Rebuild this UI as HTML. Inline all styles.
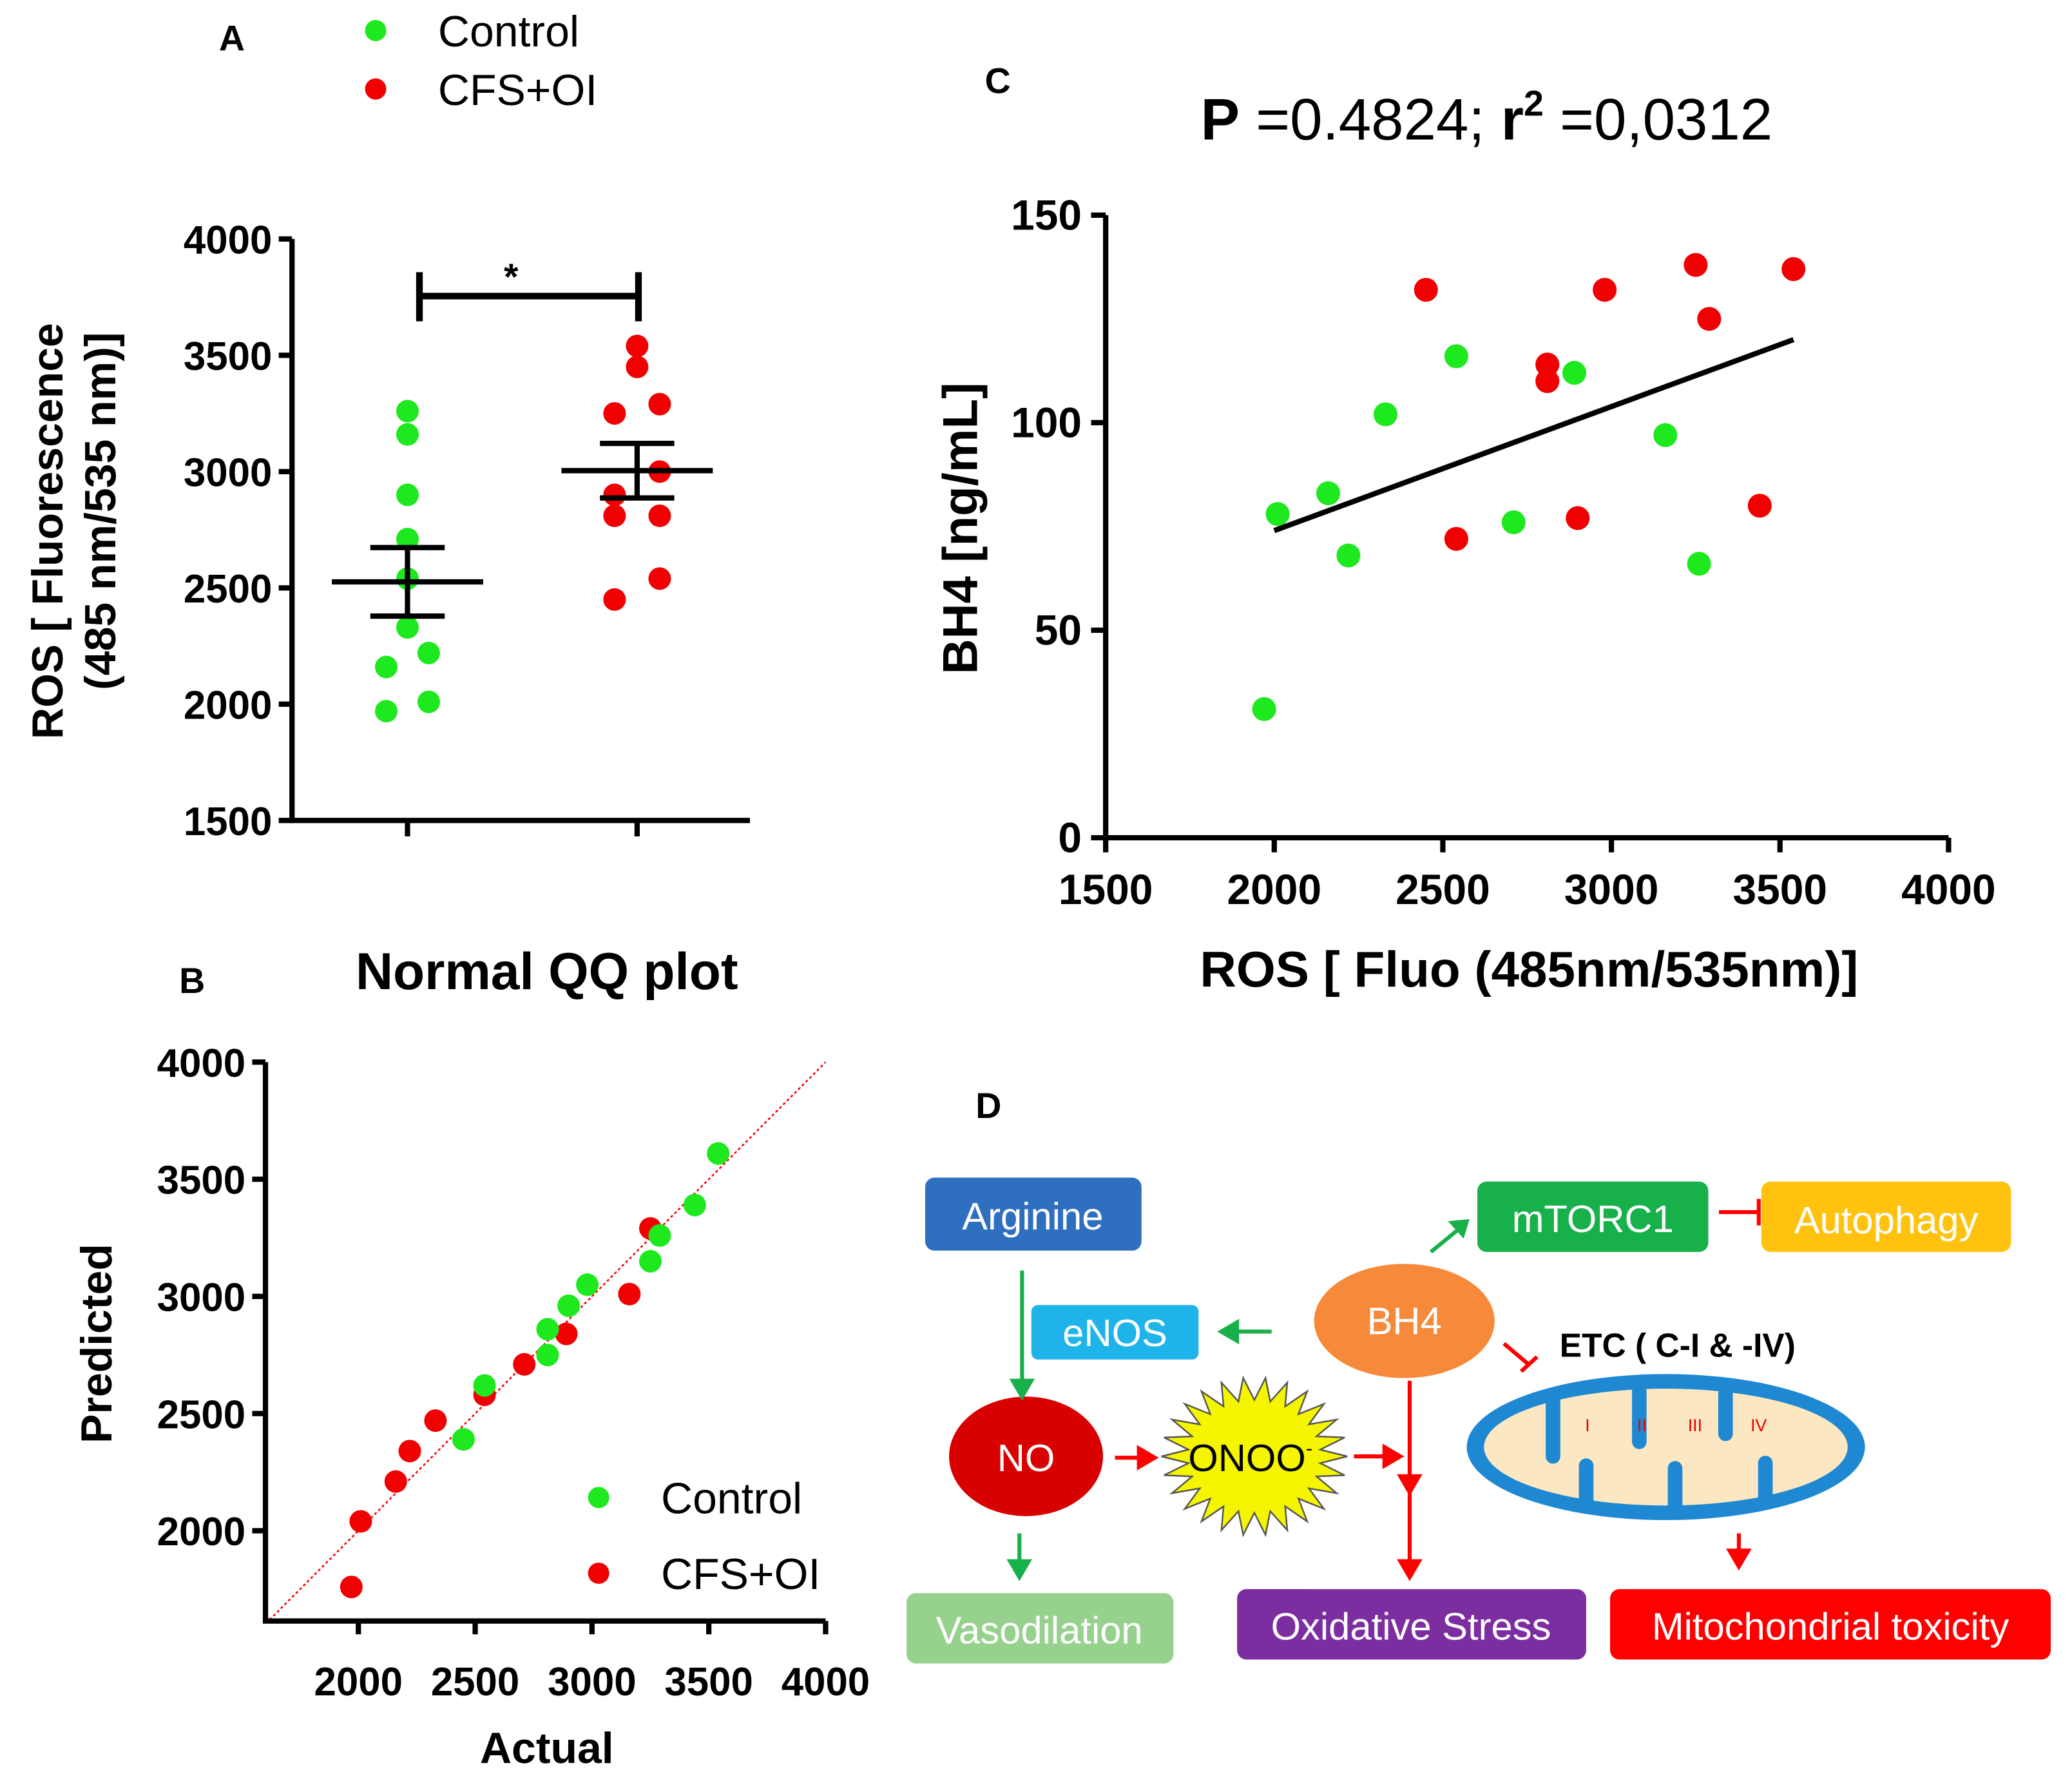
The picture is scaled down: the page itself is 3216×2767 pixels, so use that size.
<!DOCTYPE html>
<html><head><meta charset="utf-8"><style>html,body{margin:0;padding:0;background:#fff}svg{display:block}text{font-family:"Liberation Sans",Arial,sans-serif}</style></head>
<body>
<svg id="fig" width="3216" height="2767" viewBox="0 0 1561 1343" xmlns="http://www.w3.org/2000/svg">
<g id="A"></g>
<g id="B"></g>
<g id="C"></g>
<g id="D">
  <text x="735" y="842" font-size="27" font-weight="bold">D</text>
  <rect x="697" y="887" width="163" height="55" rx="7" fill="#2F6FC0"/>
  <text x="778" y="926" font-size="29" fill="#fff" text-anchor="middle">Arginine</text>
  <rect x="1113" y="890" width="174" height="53" rx="7" fill="#18B04A"/>
  <text x="1200" y="928" font-size="29" fill="#fff" text-anchor="middle">mTORC1</text>
  <rect x="1327" y="890" width="188" height="53" rx="7" fill="#FFC20E"/>
  <text x="1421" y="929" font-size="29" fill="#fff" text-anchor="middle">Autophagy</text>
  <rect x="777" y="983" width="126" height="41" rx="5" fill="#1EB4EA"/>
  <text x="840" y="1014" font-size="29" fill="#fff" text-anchor="middle">eNOS</text>
  <ellipse cx="1058" cy="995" rx="68" ry="43" fill="#F6893A"/>
  <text x="1058" y="1005" font-size="29" fill="#fff" text-anchor="middle">BH4</text>
  <ellipse cx="773" cy="1097" rx="58" ry="45" fill="#D90000"/>
  <text x="773" y="1108" font-size="29" fill="#fff" text-anchor="middle">NO</text>
  <polygon id="star" fill="#F5F500" stroke="#555" stroke-width="1.2"/>
  <text x="942" y="1108" font-size="29" text-anchor="middle">ONOO<tspan font-size="15" dy="-12">-</tspan></text>
  <rect x="683" y="1200" width="201" height="53" rx="7" fill="#97D18E"/>
  <text x="783" y="1238" font-size="29" fill="#fff" text-anchor="middle">Vasodilation</text>
  <rect x="932" y="1197" width="263" height="53" rx="7" fill="#7C2DA0"/>
  <text x="1063" y="1235" font-size="29" fill="#fff" text-anchor="middle">Oxidative Stress</text>
  <rect x="1213" y="1197" width="332" height="53" rx="7" fill="#FF0000"/>
  <text x="1379" y="1235" font-size="29" fill="#fff" text-anchor="middle">Mitochondrial toxicity</text>
  <text x="1175" y="1022" font-size="25" font-weight="bold">ETC ( C-I &amp; -IV)</text>
  <g>
    <ellipse cx="1255" cy="1090" rx="150" ry="55" fill="#1E88D2"/>
    <ellipse cx="1255" cy="1090" rx="137" ry="44" fill="#FCE7C3"/>
    <path d="M1170 1052 v45 M1235 1048 v38 M1300 1050 v30 M1195 1134 v-30 M1262 1138 v-32 M1330 1130 v-28" stroke="#1E88D2" stroke-width="11" stroke-linecap="round"/>
    <text x="1196" y="1078" font-size="13" fill="#e00" text-anchor="middle">I</text>
    <text x="1237" y="1078" font-size="13" fill="#e00" text-anchor="middle">II</text>
    <text x="1277" y="1078" font-size="13" fill="#e00" text-anchor="middle">III</text>
    <text x="1325" y="1078" font-size="13" fill="#e00" text-anchor="middle">IV</text>
  </g>
  <g fill="none" stroke-width="3">
    <path d="M770 957 V1045" stroke="#18B04A"/><path d="M763 1040 L770 1052 L777 1040Z" fill="#18B04A" stroke="#18B04A"/>
    <path d="M768 1155 V1180" stroke="#18B04A"/><path d="M761 1176 L768 1188 L775 1176Z" fill="#18B04A" stroke="#18B04A"/>
    <path d="M958 1003 H930" stroke="#18B04A"/><path d="M932 996 L920 1003 L932 1010Z" fill="#18B04A" stroke="#18B04A"/>
    <path d="M1078 943 L1100 925" stroke="#18B04A"/><path d="M1094 921 L1105 920 L1102 930Z" fill="#18B04A" stroke="#18B04A"/>
    <path d="M1295 913 H1325 M1325 903 V923" stroke="#f00"/>
    <path d="M1133 1012 L1152 1028 M1146 1033 L1158 1022" stroke="#f00"/>
    <path d="M840 1098 H860" stroke="#f00"/><path d="M858 1091 L870 1098 L858 1105Z" fill="#f00" stroke="#f00"/>
    <path d="M1020 1097 H1045" stroke="#f00"/><path d="M1043 1090 L1055 1097 L1043 1104Z" fill="#f00" stroke="#f00"/>
    <path d="M1062 1040 V1180" stroke="#f00"/><path d="M1055 1112 L1062 1124 L1069 1112Z M1055 1176 L1062 1188 L1069 1176Z" fill="#f00" stroke="#f00"/>
    <path d="M1310 1155 V1170" stroke="#f00"/><path d="M1303 1168 L1310 1180 L1317 1168Z" fill="#f00" stroke="#f00"/>
  </g>
</g>
</svg>
<script>
// Panel A data
const aCtrl = [3260,3160,2900,2710,2540,2330,2220,2160,2010,1970];
const aCfs = [3540,3450,3290,3250,3000,2900,2810,2810,2540,2450];
const aTicks = [1500,2000,2500,3000,3500,4000];
// Panel B data (actual, predicted)
const bCtrlActual = [2450,2540,2810,2810,2900,2980,3250,3290,3440,3540];
const bCtrlPred = [2390,2620,2750,2860,2960,3050,3150,3260,3390,3610];
const bCfsActual = [1970,2010,2160,2220,2330,2540,2710,2890,3160,3250];
const bCfsPred = [1760,2040,2210,2340,2470,2580,2710,2840,3010,3290];
const bXTicks = [2000,2500,3000,3500,4000];
const bYTicks = [2000,2500,3000,3500,4000];
// Panel C data
const cCtrlX = [1970,2010,2160,2220,2330,2540,2710,2890,3160,3260];
const cCtrlY = [31,78,83,68,102,116,76,112,97,66];
const cCfsX = [2450,2540,2810,2810,2900,2980,3250,3290,3440,3540];
const cCfsY = [132,72,114,110,77,132,138,125,80,137];
const cXTicks = [1500,2000,2500,3000,3500,4000];
const cYTicks = [0,50,100,150];
const cFit = [[2000,74],[3540,120]];

const NS='http://www.w3.org/2000/svg';
function mk(parent,tag,attrs,txt){const e=document.createElementNS(NS,tag);for(const k in attrs)e.setAttribute(k,attrs[k]);if(txt!==undefined)e.textContent=txt;parent.appendChild(e);return e;}
const GREEN='#1EE81E', RED='#F00000';
function mean(a){return a.reduce((s,v)=>s+v,0)/a.length;}
function sem(a){const m=mean(a);return Math.sqrt(a.reduce((s,v)=>s+(v-m)*(v-m),0)/(a.length-1))/Math.sqrt(a.length);}

// ---------- Panel A ----------
(function(){
const g=document.getElementById('A');
const y=v=>618-(v-1500)/2500*438;
let e;
e=mk(g,'text',{x:165,y:38,'font-size':27,'font-weight':'bold'},'A');


[[GREEN,'Control',23],[RED,'CFS+OI',67]].forEach(([c,t,yy])=>{
  e=mk(g,'circle',{cx:283,cy:yy,r:8,fill:c});
  
  
  e=mk(g,'text',{x:330,y:yy+12,'font-size':33},t);
  
  
});
e=mk(g,'path',{d:'M220 180 V618 H565',stroke:'#000','stroke-width':4,fill:'none'});


aTicks.forEach(t=>{
  mk(g,'line',{x1:210,x2:220,y1:y(t),y2:y(t),stroke:'#000','stroke-width':4});
  e=mk(g,'text',{x:205,y:y(t)+11,'font-size':30,'font-weight':'bold','text-anchor':'end'},t);
  
  
});
[307,480].forEach(x=>mk(g,'line',{x1:x,x2:x,y1:618,y2:630,stroke:'#000','stroke-width':4}));
e=mk(g,'text',{transform:'translate(47 400) rotate(-90)','font-size':33,'font-weight':'bold','text-anchor':'middle'},'ROS [ Fluorescence');


e=mk(g,'text',{transform:'translate(87 385) rotate(-90)','font-size':33,'font-weight':'bold','text-anchor':'middle'},'(485 nm/535 nm)]');


const off=[0,0,0,0,0,0,16,-16,16,-16];
const offR=[0,0,17,-17,17,-17,17,-17,17,-17];
aCtrl.forEach((v,i)=>{e=mk(g,'circle',{cx:307+off[i],cy:y(v),r:8.5,fill:GREEN});
  
  });
aCfs.forEach((v,i)=>{e=mk(g,'circle',{cx:480+offR[i],cy:y(v),r:8.5,fill:RED});
  
  });
[[aCtrl,307],[aCfs,480]].forEach(([a,x])=>{
  const m=mean(a),s=sem(a);
  const p=`M${x-57} ${y(m)} H${x+57} M${x-28} ${y(m+s)} H${x+28} M${x-28} ${y(m-s)} H${x+28} M${x} ${y(m+s)} V${y(m-s)}`;
  e=mk(g,'path',{d:p,stroke:'#000','stroke-width':4,fill:'none'});
  
  
});
e=mk(g,'path',{d:'M316 205 V242 M316 223 H481 M481 205 V242',stroke:'#000','stroke-width':5,fill:'none'});


e=mk(g,'text',{x:385,y:218,'font-size':28,'font-weight':'bold','text-anchor':'middle'},'*');


})();

// ---------- Panel B ----------
(function(){
const g=document.getElementById('B');
const x=v=>270+(v-2000)/2000*352;
const y=v=>1153-(v-2000)/2000*353;
let e;
e=mk(g,'text',{x:135,y:748,'font-size':27,'font-weight':'bold'},'B');


e=mk(g,'text',{x:412,y:745,'font-size':39,'font-weight':'bold','text-anchor':'middle'},'Normal QQ plot');


e=mk(g,'line',{x1:x(1620),y1:y(1620),x2:x(4000),y2:y(4000),stroke:'#f00','stroke-width':1.3,'stroke-dasharray':'2 2'});


e=mk(g,'path',{d:`M200 800 V1221 H622`,stroke:'#000','stroke-width':4,fill:'none'});


bYTicks.forEach(t=>{mk(g,'line',{x1:190,x2:200,y1:y(t),y2:y(t),stroke:'#000','stroke-width':4});
  e=mk(g,'text',{x:185,y:y(t)+11,'font-size':30,'font-weight':'bold','text-anchor':'end'},t);
  
  });
bXTicks.forEach(t=>{mk(g,'line',{x1:x(t),x2:x(t),y1:1221,y2:1231,stroke:'#000','stroke-width':4});
  e=mk(g,'text',{x:x(t),y:1277,'font-size':30,'font-weight':'bold','text-anchor':'middle'},t);
  
  });
e=mk(g,'text',{x:412,y:1328,'font-size':33,'font-weight':'bold','text-anchor':'middle'},'Actual');


e=mk(g,'text',{transform:'translate(84 1012) rotate(-90)','font-size':33,'font-weight':'bold','text-anchor':'middle'},'Predicted');


bCfsActual.forEach((v,i)=>{e=mk(g,'circle',{cx:x(v),cy:y(bCfsPred[i]),r:8.5,fill:RED});
  
  });
bCtrlActual.forEach((v,i)=>{e=mk(g,'circle',{cx:x(v),cy:y(bCtrlPred[i]),r:8.5,fill:GREEN});
  
  });
[[GREEN,'Control',1128],[RED,'CFS+OI',1185]].forEach(([c,t,yy])=>{
  e=mk(g,'circle',{cx:451,cy:yy,r:8,fill:c});
  
  
  e=mk(g,'text',{x:498,y:yy+12,'font-size':33},t);
  
  
});
})();

// ---------- Panel C ----------
(function(){
const g=document.getElementById('C');
const x=v=>833+(v-1500)/2500*635;
const y=v=>631-v/150*469;
let e;
e=mk(g,'text',{x:742,y:70,'font-size':27,'font-weight':'bold'},'C');


e=mk(g,'text',{x:1120,y:105,'font-size':44,'text-anchor':'middle'});
e.innerHTML='<tspan font-weight="bold">P</tspan> =0.4824; <tspan font-weight="bold">r</tspan><tspan font-weight="bold" font-size="27" dy="-18">2</tspan><tspan dy="18"> =0,0312</tspan>';


e=mk(g,'path',{d:'M833 162 V631 H1468',stroke:'#000','stroke-width':4,fill:'none'});


cYTicks.forEach(t=>{mk(g,'line',{x1:822,x2:833,y1:y(t),y2:y(t),stroke:'#000','stroke-width':4});
  e=mk(g,'text',{x:815,y:y(t)+11,'font-size':32,'font-weight':'bold','text-anchor':'end'},t);
  
  });
cXTicks.forEach(t=>{mk(g,'line',{x1:x(t),x2:x(t),y1:631,y2:642,stroke:'#000','stroke-width':4});
  e=mk(g,'text',{x:x(t),y:681,'font-size':32,'font-weight':'bold','text-anchor':'middle'},t);
  
  });
e=mk(g,'text',{x:1152,y:743,'font-size':38,'font-weight':'bold','text-anchor':'middle'},'ROS [ Fluo (485nm/535nm)]');


e=mk(g,'text',{transform:'translate(736 398) rotate(-90)','font-size':37,'font-weight':'bold','text-anchor':'middle'},'BH4 [ng/mL]');


e=mk(g,'line',{x1:x(cFit[0][0]),y1:y(cFit[0][1]),x2:x(cFit[1][0]),y2:y(cFit[1][1]),stroke:'#000','stroke-width':4});


cCtrlX.forEach((v,i)=>{e=mk(g,'circle',{cx:x(v),cy:y(cCtrlY[i]),r:9,fill:GREEN});
  
  });
cCfsX.forEach((v,i)=>{e=mk(g,'circle',{cx:x(v),cy:y(cCfsY[i]),r:9,fill:RED});
  
  });
})();

// star
(function(){const cx=945,cy=1097,n=26;let p=[];for(let i=0;i<2*n;i++){const a=Math.PI*i/n;const r=i%2?50:70;p.push((cx+r*Math.cos(a)).toFixed(1)+','+(cy+r*0.85*Math.sin(a)).toFixed(1));}document.getElementById('star').setAttribute('points',p.join(' '));})();
</script>
</body></html>
